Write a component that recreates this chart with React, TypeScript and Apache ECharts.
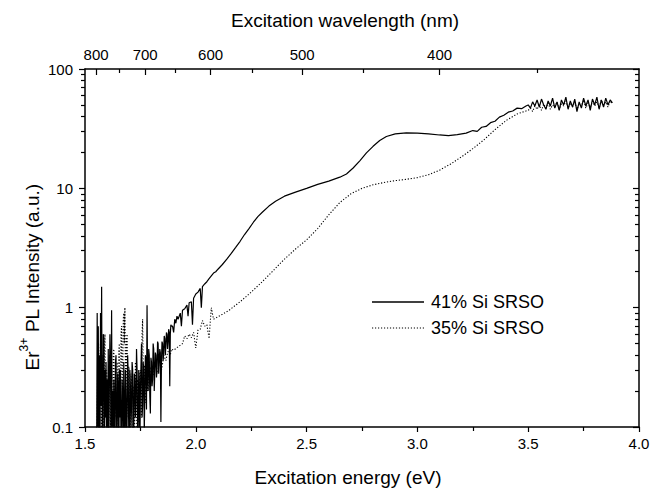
import React, { useEffect, useRef } from 'react';
import * as echarts from 'echarts';

const FONT = "'Liberation Sans', Arial, Helvetica, sans-serif";

// Top axis: excitation wavelength (nm), placed at E = 1240 / lambda
const topMajorNm = [800, 700, 600, 500, 400];
const topMinorNm = [750, 650, 550, 450, 350];

// Left / right log axis ticks
const yMajor = [0.1, 1, 10, 100];
const yMinor = [
  0.2, 0.3, 0.4, 0.5, 0.6, 0.7, 0.8, 0.9,
  2, 3, 4, 5, 6, 7, 8, 9,
  20, 30, 40, 50, 60, 70, 80, 90,
];

// 41% Si SRSO (solid)
const s41Noisy: number[][] = [
  [1.5525, 0.06], [1.555, 0.9], [1.5575, 0.1], [1.56, 0.7], [1.5625, 0.07], [1.565, 0.4],
  [1.5675, 0.05], [1.57, 0.9], [1.5725, 0.15], [1.575, 1.5], [1.5775, 0.09], [1.58, 0.07],
  [1.5825, 0.6], [1.585, 0.55], [1.5875, 0.08], [1.59, 0.3], [1.5925, 0.12], [1.595, 0.35],
  [1.5975, 0.05], [1.6, 0.25], [1.6025, 0.1], [1.605, 0.45], [1.6075, 0.07], [1.61, 0.22],
  [1.6125, 0.6], [1.615, 0.3], [1.6175, 0.08], [1.62, 0.95], [1.6225, 0.1], [1.625, 0.2],
  [1.6275, 0.06], [1.63, 0.25], [1.6325, 0.15], [1.635, 0.07], [1.6375, 0.35], [1.64, 0.4],
  [1.6425, 0.08], [1.645, 0.1], [1.6475, 0.28], [1.65, 0.22], [1.6525, 0.05], [1.655, 0.3],
  [1.6575, 0.12], [1.66, 0.3], [1.6625, 0.07], [1.665, 0.09], [1.6675, 0.25], [1.67, 0.18],
  [1.6725, 0.06], [1.675, 0.35], [1.6775, 0.13], [1.68, 0.07], [1.6825, 0.3], [1.685, 0.2],
  [1.6875, 0.05], [1.69, 0.12], [1.6925, 0.4], [1.695, 0.28], [1.6975, 0.09], [1.7, 0.08],
  [1.7025, 0.3], [1.705, 0.22], [1.7075, 0.1], [1.71, 0.15], [1.7125, 0.35], [1.715, 0.3],
  [1.7175, 0.07], [1.72, 0.1], [1.7225, 0.28], [1.725, 0.25], [1.7275, 0.12], [1.73, 0.16],
  [1.7325, 0.45], [1.735, 0.3], [1.7375, 0.08], [1.74, 0.09], [1.7425, 0.3], [1.745, 0.26],
  [1.7475, 0.06], [1.75, 0.2], [1.7525, 0.32], [1.755, 0.5], [1.7575, 0.12], [1.76, 0.15],
  [1.7625, 0.35], [1.765, 0.3], [1.7675, 0.09], [1.77, 0.09], [1.7725, 0.4], [1.775, 0.35],
  [1.7775, 0.14], [1.78, 1.05], [1.7825, 0.25], [1.785, 0.2], [1.7875, 0.45], [1.79, 0.4],
  [1.7925, 0.18], [1.795, 0.13], [1.7975, 0.38], [1.8, 0.35], [1.8025, 0.22], [1.805, 0.25],
  [1.8075, 0.5], [1.81, 0.45], [1.8125, 0.2], [1.815, 0.2], [1.8175, 0.42], [1.82, 0.4],
  [1.8225, 0.26], [1.825, 0.3], [1.8275, 0.52], [1.83, 0.5], [1.8325, 0.28], [1.835, 0.28],
  [1.8375, 0.45], [1.84, 0.42], [1.8425, 0.11], [1.845, 0.35], [1.8475, 0.52], [1.85, 0.5],
  [1.8525, 0.36], [1.855, 0.42], [1.8575, 0.58], [1.86, 0.55], [1.8625, 0.4], [1.865, 0.48],
  [1.8675, 0.62], [1.87, 0.6], [1.8725, 0.45], [1.875, 0.52], [1.8775, 0.66], [1.88, 0.62],
  [1.8825, 0.22], [1.885, 0.6], [1.8875, 0.72], [1.89, 0.7],
];
const s41Smooth: number[][] = [
  [1.895, 0.7], [1.9, 0.62], [1.905, 0.8], [1.91, 0.74], [1.915, 0.85], [1.92, 0.8],
  [1.93, 0.9], [1.935, 0.7], [1.94, 0.95], [1.95, 0.98], [1.96, 1.05], [1.965, 0.85],
  [1.97, 1.1], [1.98, 1.12], [1.985, 0.72], [1.99, 1.2], [2.0, 1.3], [2.01, 1.35],
  [2.02, 1.45], [2.025, 1.0], [2.03, 1.5], [2.04, 1.58], [2.05, 1.65], [2.06, 1.75],
  [2.07, 1.85], [2.08, 1.95], [2.09, 2.0], [2.1, 2.1], [2.12, 2.3], [2.14, 2.55],
  [2.16, 2.85], [2.18, 3.2], [2.2, 3.6], [2.22, 4.1], [2.24, 4.6], [2.26, 5.2],
  [2.28, 5.8], [2.3, 6.3], [2.33, 7.1], [2.36, 7.8], [2.4, 8.6], [2.45, 9.3],
  [2.5, 10.0], [2.55, 10.8], [2.6, 11.5], [2.65, 12.4], [2.68, 13.2], [2.71, 14.8],
  [2.74, 17.0], [2.77, 19.8], [2.8, 22.5], [2.83, 25.2], [2.86, 27.2], [2.9, 28.6],
  [2.95, 29.2], [3.0, 29.0], [3.05, 28.6], [3.1, 28.0], [3.14, 27.6], [3.18, 28.2],
  [3.22, 29.0], [3.25, 30.5], [3.27, 30.0], [3.29, 32.5], [3.31, 33.0], [3.33, 35.5],
  [3.35, 36.5], [3.37, 39.5], [3.39, 41], [3.41, 43.5], [3.43, 44.5], [3.45, 47],
  [3.47, 46.5], [3.49, 49],
];
const s41Plateau: number[][] = [
  [3.5, 50], [3.51, 47], [3.52, 53], [3.53, 49], [3.54, 55], [3.55, 48], [3.56, 56],
  [3.57, 50], [3.58, 46], [3.59, 54], [3.6, 49], [3.61, 57], [3.62, 47], [3.63, 53],
  [3.64, 45], [3.65, 55], [3.66, 50], [3.67, 58], [3.68, 46], [3.69, 54], [3.7, 48],
  [3.71, 56], [3.72, 44], [3.73, 53], [3.74, 47], [3.75, 57], [3.76, 49], [3.77, 55],
  [3.78, 45], [3.79, 56], [3.8, 50], [3.81, 58], [3.82, 46], [3.83, 55], [3.84, 48],
  [3.85, 57], [3.86, 50], [3.87, 55], [3.88, 52],
];

// 35% Si SRSO (dotted)
const s35Noisy: number[][] = [
  [1.5525, 0.09], [1.555, 0.1], [1.5575, 0.5], [1.56, 0.3], [1.5625, 0.08], [1.565, 0.07],
  [1.5675, 0.35], [1.57, 0.5], [1.5725, 0.12], [1.575, 0.09], [1.5775, 0.4], [1.58, 0.35],
  [1.5825, 0.1], [1.585, 0.06], [1.5875, 0.45], [1.59, 0.6], [1.5925, 0.15], [1.595, 0.12],
  [1.5975, 0.3], [1.6, 0.25], [1.6025, 0.07], [1.605, 0.08], [1.6075, 0.35], [1.61, 0.4],
  [1.6125, 0.14], [1.615, 0.1], [1.6175, 0.25], [1.62, 0.3], [1.6225, 0.09], [1.625, 0.07],
  [1.6275, 0.4], [1.63, 0.45], [1.6325, 0.2], [1.635, 0.12], [1.6375, 0.28], [1.64, 0.2],
  [1.6425, 0.1], [1.645, 0.35], [1.6475, 0.15], [1.65, 0.09], [1.6525, 0.45], [1.655, 0.5],
  [1.6575, 0.18], [1.66, 0.15], [1.6625, 0.6], [1.665, 0.7], [1.6675, 0.25], [1.67, 0.2],
  [1.6725, 0.8], [1.675, 0.9], [1.6775, 0.5], [1.68, 1.0], [1.6825, 0.3], [1.685, 0.2],
  [1.6875, 0.55], [1.69, 0.6], [1.6925, 0.15], [1.695, 0.12], [1.6975, 0.32], [1.7, 0.3],
  [1.7025, 0.08], [1.705, 0.1], [1.7075, 0.28], [1.71, 0.25], [1.7125, 0.1], [1.715, 0.07],
  [1.7175, 0.22], [1.72, 0.2], [1.7225, 0.09], [1.725, 0.12], [1.7275, 0.35], [1.73, 0.3],
  [1.7325, 0.13], [1.735, 0.09], [1.7375, 0.25], [1.74, 0.22], [1.7425, 0.11], [1.745, 0.15],
  [1.7475, 0.28], [1.75, 0.3], [1.7525, 0.15], [1.755, 0.12], [1.7575, 0.6], [1.76, 0.8],
  [1.7625, 0.3], [1.765, 0.2], [1.7675, 0.33], [1.77, 0.3], [1.7725, 0.16], [1.775, 0.18],
  [1.7775, 0.34], [1.78, 0.32], [1.7825, 0.2], [1.785, 0.22], [1.7875, 0.36], [1.79, 0.35],
  [1.7925, 0.22], [1.795, 0.2], [1.7975, 0.32], [1.8, 0.3], [1.805, 0.27], [1.81, 0.28],
  [1.815, 0.34], [1.82, 0.33], [1.825, 0.28], [1.83, 0.3], [1.835, 0.37], [1.84, 0.36],
  [1.845, 0.3], [1.85, 0.34], [1.855, 0.4], [1.86, 0.38], [1.865, 0.36], [1.87, 0.4],
  [1.875, 0.43], [1.88, 0.42], [1.885, 0.4], [1.89, 0.45],
];
const s35Smooth: number[][] = [
  [1.9, 0.44], [1.92, 0.47], [1.94, 0.5], [1.95, 0.58], [1.96, 0.55], [1.97, 0.6],
  [1.98, 0.56], [1.99, 0.62], [2.0, 0.46], [2.01, 0.65], [2.02, 0.66], [2.03, 0.78],
  [2.04, 0.7], [2.05, 0.72], [2.06, 0.55], [2.07, 1.0], [2.08, 0.8], [2.1, 0.84],
  [2.12, 0.88], [2.15, 0.95], [2.18, 1.05], [2.2, 1.12], [2.25, 1.35], [2.3, 1.65],
  [2.35, 2.05], [2.4, 2.55], [2.45, 3.1], [2.5, 3.7], [2.55, 4.6], [2.6, 6.0],
  [2.65, 7.6], [2.7, 9.0], [2.75, 10.0], [2.8, 10.7], [2.85, 11.2], [2.9, 11.6],
  [2.95, 11.9], [3.0, 12.3], [3.05, 13.0], [3.1, 14.2], [3.15, 16.0], [3.2, 18.4],
  [3.25, 21.5], [3.3, 25.5], [3.35, 31], [3.4, 37], [3.45, 42], [3.49, 44.5],
];
const s35Plateau: number[][] = [
  [3.5, 45], [3.51, 47], [3.52, 44], [3.53, 49], [3.54, 46], [3.55, 50], [3.56, 45],
  [3.57, 51], [3.58, 47], [3.59, 52], [3.6, 46], [3.61, 50], [3.62, 48], [3.63, 53],
  [3.64, 46], [3.65, 51], [3.66, 49], [3.67, 54], [3.68, 47], [3.69, 52], [3.7, 48],
  [3.71, 53], [3.72, 46], [3.73, 51], [3.74, 49], [3.75, 55], [3.76, 47], [3.77, 52],
  [3.78, 48], [3.79, 54], [3.8, 49], [3.81, 53], [3.82, 47], [3.83, 55], [3.84, 50],
  [3.85, 53], [3.86, 48], [3.87, 54], [3.88, 51],
];

const seriesNames = ['41% Si SRSO', '35% Si SRSO'];

function dottedIcon(): string {
  let d = 'path://';
  for (let i = 0; i < 18; i++) {
    const x = i * 3;
    d += `M${x},0h1.2v1.2h-1.2z`;
  }
  return d;
}

export default function App() {
  const ref = useRef<HTMLDivElement>(null);

  useEffect(() => {
    if (!ref.current) return;
    const chart = echarts.init(ref.current, undefined, { renderer: 'svg' });
    const topMajorEv = topMajorNm.map((nm) => 1240 / nm);
    const topMinorEv = topMinorNm.map((nm) => 1240 / nm);
    const black = '#000';
    const labelStyle = { color: black, fontSize: 15, fontFamily: FONT };
    const lineS = { color: black, width: 1.5 };
    const tickS = { color: black, width: 1.2 };

    chart.setOption({
      animation: false,
      backgroundColor: '#fff',
      grid: [
        { left: 85, right: 14, top: 69, bottom: 62, containLabel: false },
        { left: 85, right: 14, top: 69, bottom: 62, containLabel: false },
      ],
      xAxis: [
        {
          gridIndex: 0, type: 'value', position: 'bottom', min: 1.5, max: 4, interval: 0.5,
          axisLine: { show: true, onZero: false, lineStyle: lineS },
          axisTick: { show: true, inside: false, length: 5, lineStyle: tickS },
          minorTick: { show: true, splitNumber: 2, length: 4, lineStyle: tickS },
          axisLabel: { ...labelStyle, margin: 9, formatter: (v: number) => v.toFixed(1) },
          splitLine: { show: false },
        },
        {
          gridIndex: 0, type: 'value', position: 'top', min: 1.5, max: 4,
          axisLine: { show: true, onZero: false, lineStyle: lineS },
          axisTick: { show: true, inside: true, length: 6, lineStyle: tickS, customValues: topMajorEv },
          axisLabel: {
            ...labelStyle, margin: 7, customValues: topMajorEv,
            formatter: (v: number) => String(Math.round(1240 / v)),
          },
          splitLine: { show: false },
        },
        {
          gridIndex: 1, type: 'value', position: 'top', min: 1.5, max: 4,
          axisLine: { show: false, onZero: false },
          axisTick: { show: true, inside: true, length: 4, lineStyle: tickS, customValues: topMinorEv },
          axisLabel: { show: false },
          splitLine: { show: false },
        },
      ],
      yAxis: [
        {
          gridIndex: 0, type: 'log', logBase: 10, position: 'left', min: 0.1, max: 100,
          axisLine: { show: true, onZero: false, lineStyle: lineS },
          axisTick: { show: true, inside: false, length: 6, lineStyle: tickS, customValues: yMajor },
          axisLabel: {
            ...labelStyle, margin: 12, customValues: yMajor,
            formatter: (v: number) => (v < 1 ? '0.1' : String(Math.round(v))),
          },
          splitLine: { show: false },
        },
        {
          gridIndex: 0, type: 'log', logBase: 10, position: 'right', min: 0.1, max: 100,
          axisLine: { show: true, onZero: false, lineStyle: lineS },
          axisTick: { show: true, inside: true, length: 6, lineStyle: tickS, customValues: yMajor },
          axisLabel: { show: false },
          splitLine: { show: false },
        },
        {
          gridIndex: 1, type: 'log', logBase: 10, position: 'left', min: 0.1, max: 100,
          axisLine: { show: false, onZero: false },
          axisTick: { show: true, inside: false, length: 4, lineStyle: tickS, customValues: yMinor },
          axisLabel: { show: false },
          splitLine: { show: false },
        },
        {
          gridIndex: 1, type: 'log', logBase: 10, position: 'right', min: 0.1, max: 100,
          axisLine: { show: false, onZero: false },
          axisTick: { show: true, inside: true, length: 4, lineStyle: tickS, customValues: yMinor },
          axisLabel: { show: false },
          splitLine: { show: false },
        },
      ],
      legend: {
        orient: 'vertical', left: 367, top: 288, itemWidth: 52, itemHeight: 1.3, itemGap: 8,
        textStyle: { color: black, fontSize: 18, fontFamily: FONT, padding: [0, 0, 0, 2] },
        data: [
          { name: seriesNames[0], icon: 'path://M0,0H52V1.3H0Z' },
          { name: seriesNames[1], icon: dottedIcon() },
        ],
      },
      graphic: [
        {
          type: 'text', x: 345, y: 20,
          style: { text: 'Excitation wavelength (nm)', fill: black, fontSize: 19, fontFamily: FONT, align: 'center', verticalAlign: 'middle' },
        },
        {
          type: 'text', x: 348, y: 477,
          style: { text: 'Excitation energy (eV)', fill: black, fontSize: 19, fontFamily: FONT, align: 'center', verticalAlign: 'middle' },
        },
        {
          type: 'text', x: 30, y: 277, rotation: Math.PI / 2,
          style: {
            text: '{a|Er}{s|3+}{a| PL Intensity (a.u.)}',
            fill: black, fontFamily: FONT, align: 'center', verticalAlign: 'middle',
            rich: {
              a: { fontSize: 19, fontFamily: FONT, fill: black, lineHeight: 24, verticalAlign: 'bottom' },
              s: { fontSize: 12, fontFamily: FONT, fill: black, lineHeight: 24, verticalAlign: 'top' },
            },
          },
        },
      ],
      series: [
        {
          name: seriesNames[0], type: 'line', xAxisIndex: 0, yAxisIndex: 0,
          data: [...s41Noisy, ...s41Smooth, ...s41Plateau],
          symbol: 'none', showSymbol: false, clip: true,
          lineStyle: { color: black, width: 1.2 },
          itemStyle: { color: black },
        },
        {
          name: seriesNames[1], type: 'line', xAxisIndex: 0, yAxisIndex: 0,
          data: [...s35Noisy, ...s35Smooth, ...s35Plateau],
          symbol: 'none', showSymbol: false, clip: true,
          lineStyle: { color: black, width: 1.1, type: [1.2, 1.8] },
          itemStyle: { color: black },
        },
      ],
    });
    return () => chart.dispose();
  }, []);

  return <div ref={ref} style={{ width: 653, height: 489, position: 'absolute', left: 0, top: 0 }} />;
}
